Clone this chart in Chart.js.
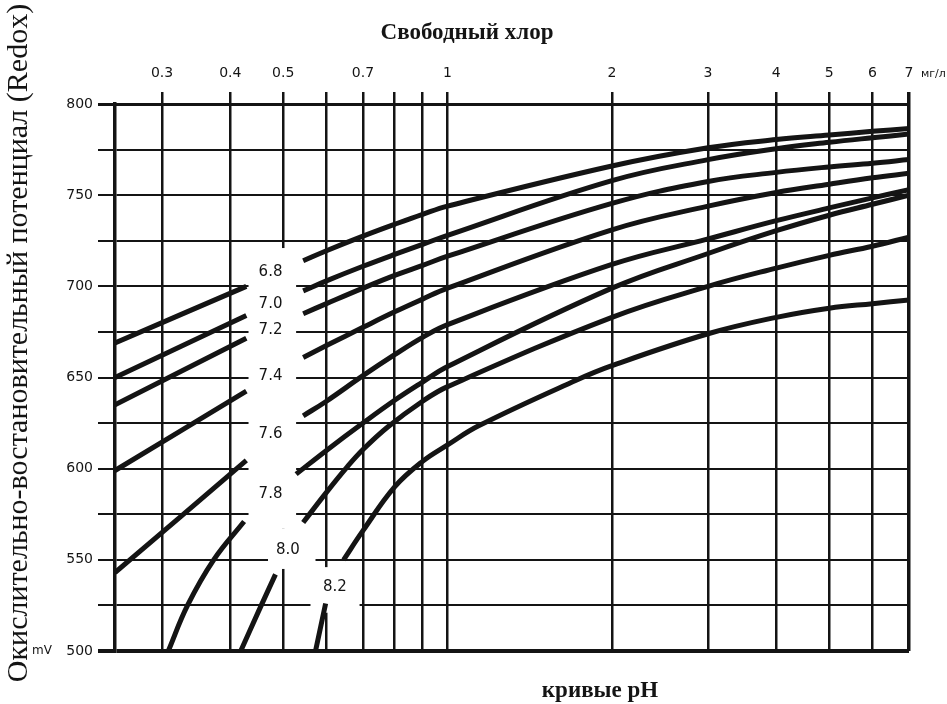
<!DOCTYPE html>
<html lang="ru">
<head>
<meta charset="utf-8">
<title>Redox и свободный хлор</title>
<script src="https://cdn.jsdelivr.net/npm/chart.js@4.4.1/dist/chart.umd.min.js"></script>
<style>
  html, body { margin: 0; padding: 0; background: #fff; }
  #wrap { width: 947px; height: 704px; }
</style>
</head>
<body>
<div id="wrap"><canvas id="redoxChart" width="947" height="704"></canvas></div>
<script>
// pH curves: free chlorine (mg/l) against redox potential (mV)
const phLevels = ['6.8', '7.0', '7.2', '7.4', '7.6', '7.8', '8.0', '8.2'];

// one row per pH curve, null = break where the pH label sits
const chlorine = [
  [0.246, 0.428, null, 0.544, 0.6, 0.7, 0.8, 0.9, 1, 2, 3, 4, 5, 6, 7],
  [0.246, 0.428, null, 0.544, 0.6, 0.7, 0.8, 0.9, 1, 2, 3, 4, 5, 6, 7],
  [0.246, 0.428, null, 0.544, 0.6, 0.7, 0.8, 0.9, 1, 2, 3, 4, 5, 6, 7],
  [0.246, 0.428, null, 0.544, 0.6, 0.7, 0.8, 0.9, 1, 2, 3, 4, 5, 6, 7],
  [0.246, 0.428, null, 0.544, 0.6, 0.7, 0.8, 0.9, 1, 2, 3, 4, 5, 6, 7],
  [0.308, 0.334, 0.373, 0.424, null, 0.528, 0.6, 0.7, 0.8, 0.9, 1, 2, 3, 4, 5, 6, 7],
  [0.418, 0.451, 0.484, null, 0.544, 0.6, 0.655, 0.7, 0.778, 0.9, 1, 2, 3, 4, 5, 6, 7],
  [0.573, 0.598, null, 0.645, 0.7, 0.8, 0.9, 1, 1.14, 1.72, 2, 3, 4, 5, 6, 7]
];
const redox = [
  [669, 700, null, 714, 719.5, 727.5, 734, 739.5, 744, 766, 776, 780.5, 783, 785, 786.5],
  [650, 684, null, 697.5, 703, 711, 717.5, 723, 728, 758, 769.5, 775.5, 779, 781.5, 783.5],
  [635, 671.5, null, 685, 690.5, 699, 706, 711.5, 716.5, 745.5, 757.5, 762.5, 765.5, 767.5, 769.5],
  [599, 642.5, null, 661, 667.5, 677.5, 686, 693, 699, 731, 744, 751.5, 756, 759.5, 762],
  [543, 604.5, null, 629, 637, 651, 662.5, 672, 679, 712, 726, 736, 743, 748.5, 753],
  [500, 525, 550, 571, null, 597, 610, 625, 637.5, 647.5, 656, 699, 718, 730.5, 739, 745, 750],
  [500, 522, 542, null, 570.5, 587, 601, 610.5, 623, 637, 645, 683, 700, 710, 717, 722, 727],
  [500, 526, null, 550, 566, 590, 604, 613, 623.5, 648.5, 656.5, 674, 683, 688, 690.5, 692.5]
];

const chlorineTicks = [0.3, 0.4, 0.5, 0.6, 0.7, 0.8, 0.9, 1, 2, 3, 4, 5, 6, 7];
const chlorineTickLabels = ['0.3', '0.4', '0.5', '', '0.7', '', '', '1', '2', '3', '4', '5', '6', '7'];
const redoxMin = 500, redoxMax = 800, redoxStep = 25, redoxLabelStep = 50;

// where the pH numbers go, and the blank lane cut out of the grid around them
const phLabelAt = [
  [0.474, 708], [0.474, 690.5], [0.474, 676], [0.474, 651],
  [0.474, 619], [0.474, 586], [0.51, 555.5], [0.622, 535]
];
const laneBoxes = [
  { cl: [0.432, 0.528], mv: [567, 721] },
  { cl: [0.469, 0.573], mv: [545, 567] },
  { cl: [0.561, 0.69], mv: [521, 546] }
];

const ink = '#141414';
const sans = 'DejaVu Sans';
const serif = 'Liberation Serif';

function splitSegments(xs, ys) {
  const out = [[]];
  xs.forEach((x, j) => {
    if (x === null) out.push([]);
    else out[out.length - 1].push({ x: x, y: ys[j] });
  });
  return out;
}

const datasets = [];
phLevels.forEach((ph, i) => {
  splitSegments(chlorine[i], redox[i]).forEach(seg => {
    datasets.push({
      label: 'pH ' + ph,
      data: seg,
      borderColor: ink,
      borderWidth: 5,
      borderCapStyle: 'butt',
      pointRadius: 0,
      tension: 0.4,
      fill: false
    });
  });
});

const labelLane = {
  id: 'labelLane',
  beforeDatasetsDraw(chart) {
    const { ctx, scales: { x, y } } = chart;
    ctx.save();
    ctx.fillStyle = '#fff';
    laneBoxes.forEach(b => {
      const l = x.getPixelForValue(b.cl[0]);
      const r = x.getPixelForValue(b.cl[1]);
      const t = y.getPixelForValue(b.mv[1]);
      const bt = y.getPixelForValue(b.mv[0]);
      ctx.fillRect(l, t, r - l, bt - t);
    });
    ctx.restore();
  },
  afterDatasetsDraw(chart) {
    const { ctx, scales: { x, y } } = chart;
    ctx.save();
    ctx.fillStyle = ink;
    ctx.font = '15px "' + sans + '"';
    ctx.textAlign = 'center';
    ctx.textBaseline = 'middle';
    phLevels.forEach((ph, i) => {
      ctx.fillText(ph, x.getPixelForValue(phLabelAt[i][0]), y.getPixelForValue(phLabelAt[i][1]));
    });
    ctx.restore();
  }
};

const captions = {
  id: 'captions',
  afterDraw(chart) {
    const ctx = chart.ctx;
    const area = chart.chartArea;
    ctx.save();
    ctx.fillStyle = ink;
    ctx.textAlign = 'center';
    ctx.textBaseline = 'middle';

    ctx.font = 'bold 23px "' + serif + '"';
    ctx.fillText('Свободный хлор', 467, 33);
    ctx.fillText('кривые pH', 600, 691);

    ctx.font = '12px "' + sans + '"';
    ctx.fillText('mV', 42, area.bottom);
    ctx.font = '11px "' + sans + '"';
    ctx.textAlign = 'left';
    ctx.fillText('мг/л', 921, 74);

    ctx.translate(19, 343);
    ctx.rotate(-Math.PI / 2);
    ctx.textAlign = 'center';
    ctx.font = '30px "' + serif + '"';
    ctx.fillText('Окислительно-востановительный потенциал (Redox)', 0, 0);
    ctx.restore();
  }
};

new Chart(document.getElementById('redoxChart'), {
  type: 'line',
  data: { datasets: datasets },
  plugins: [labelLane, captions],
  options: {
    responsive: false,
    animation: false,
    layout: { padding: { left: 0, top: 0, right: 38, bottom: 53 } },
    plugins: {
      legend: { display: false },
      tooltip: { enabled: false }
    },
    scales: {
      x: {
        type: 'logarithmic',
        position: 'top',
        min: 0.246,
        max: 7,
        afterBuildTicks(scale) {
          scale.ticks = chlorineTicks.map(v => ({ value: v }));
        },
        afterFit(scale) { scale.height = 104; },
        ticks: {
          autoSkip: false,
          maxRotation: 0,
          padding: 10,
          color: ink,
          font: { family: sans, size: 14 },
          callback: (v, i) => chlorineTickLabels[i]
        },
        grid: {
          color: ink,
          lineWidth: c => (c.tick && c.tick.value === 7 ? 3.5 : 2.5),
          tickLength: 12
        },
        border: { display: true, color: ink, width: 3 }
      },
      y: {
        type: 'linear',
        min: redoxMin,
        max: redoxMax,
        afterFit(scale) { scale.width = 115; },
        ticks: {
          stepSize: redoxStep,
          padding: 5,
          color: ink,
          font: { family: sans, size: 14 },
          callback: v => (v % redoxLabelStep === 0 ? v : '')
        },
        grid: {
          color: ink,
          lineWidth: c => {
            if (!c.tick) return 2;
            if (c.tick.value === redoxMin) return 4;
            if (c.tick.value === redoxMax) return 3;
            return 2;
          },
          tickLength: 17
        },
        border: { display: true, color: ink, width: 3.5 }
      }
    }
  }
});
</script>
</body>
</html>
